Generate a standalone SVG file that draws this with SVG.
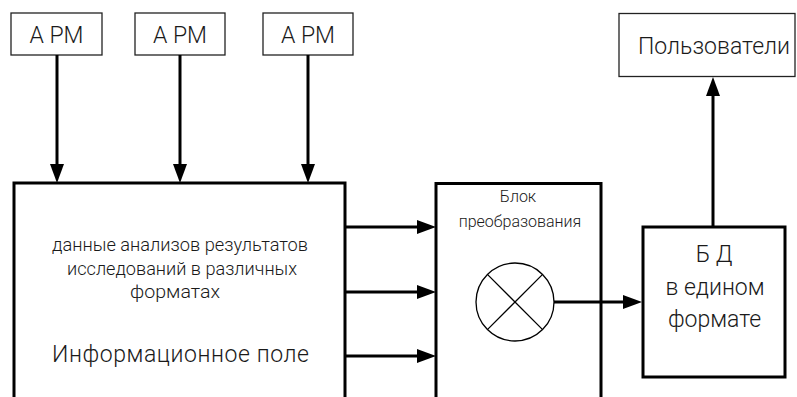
<svg xmlns="http://www.w3.org/2000/svg" width="797" height="397" viewBox="0 0 797 397">
<style>
  .thin { fill: #fff; stroke: #222; stroke-width: 1.3; }
  .thick { fill: none; stroke: #000; stroke-width: 3; }
  .conn { fill: none; stroke: #000; stroke-width: 3; }
  text { font-family: Roboto, "Liberation Sans", sans-serif; font-weight: 300; fill: #1a1a1a; text-anchor: middle; }
  .big { font-size: 23px; }
  .mid { font-size: 16px; }
  .sm { font-size: 18px; }
</style>
<defs>
  <marker id="ah" markerUnits="userSpaceOnUse" markerWidth="20" markerHeight="14" refX="8" refY="7" orient="auto">
    <path d="M0,0 L19,7 L0,14 z" fill="#000"/>
  </marker>
</defs>
<rect width="797" height="397" fill="#fff"/>

<g id="apm1">
  <rect class="thin" x="11" y="13" width="91" height="42"/>
  <text class="big" x="56.5" y="43">А РМ</text>
</g>
<g id="apm2">
  <rect class="thin" x="135" y="13" width="90" height="42"/>
  <text class="big" x="180" y="43">А РМ</text>
</g>
<g id="apm3">
  <rect class="thin" x="263" y="13" width="90" height="42"/>
  <text class="big" x="308" y="43">А РМ</text>
</g>
<g id="users">
  <rect class="thin" x="619" y="13.5" width="176" height="63"/>
  <text class="big" x="714" y="54" textLength="152" lengthAdjust="spacing">Пользователи</text>
</g>
<g id="infofield">
  <path class="thick" d="M14,400 V183 H345 V400"/>
  <text class="sm" x="180" y="251" textLength="256" lengthAdjust="spacingAndGlyphs">данные анализов результатов</text>
  <text class="sm" x="182" y="274.5" textLength="230" lengthAdjust="spacingAndGlyphs">исследований в различных</text>
  <text class="sm" x="175" y="298" textLength="90" lengthAdjust="spacingAndGlyphs">форматах</text>
  <text class="big" x="180.5" y="362" textLength="257" lengthAdjust="spacing">Информационное поле</text>
</g>
<g id="converter">
  <path class="thick" d="M436,400 V183.5 H601 V400"/>
  <text class="mid" x="518" y="202">Блок</text>
  <text class="mid" x="520" y="227">преобразования</text>
  <circle cx="515" cy="302" r="39" fill="none" stroke="#000" stroke-width="1.3"/>
  <path d="M487.4,274.4 L542.6,329.6 M487.4,329.6 L542.6,274.4" stroke="#000" stroke-width="1.3" fill="none"/>
</g>
<g id="db">
  <rect class="thick" x="643" y="227" width="142" height="150"/>
  <text class="big" x="714" y="262">Б Д</text>
  <text class="big" x="715" y="295">в едином</text>
  <text class="big" x="714.5" y="327">формате</text>
</g>

<g id="connectors">
  <line class="conn" x1="57" y1="55" x2="57" y2="172" marker-end="url(#ah)"/>
  <line class="conn" x1="180" y1="55" x2="180" y2="172" marker-end="url(#ah)"/>
  <line class="conn" x1="308" y1="55" x2="308" y2="172" marker-end="url(#ah)"/>
  <line class="conn" x1="345" y1="227" x2="425" y2="227" marker-end="url(#ah)"/>
  <line class="conn" x1="345" y1="292" x2="425" y2="292" marker-end="url(#ah)"/>
  <line class="conn" x1="345" y1="356" x2="425" y2="356" marker-end="url(#ah)"/>
  <line class="conn" x1="554" y1="302" x2="631" y2="302" marker-end="url(#ah)"/>
  <line class="conn" x1="713" y1="227" x2="713" y2="88" marker-end="url(#ah)"/>
</g>
</svg>
